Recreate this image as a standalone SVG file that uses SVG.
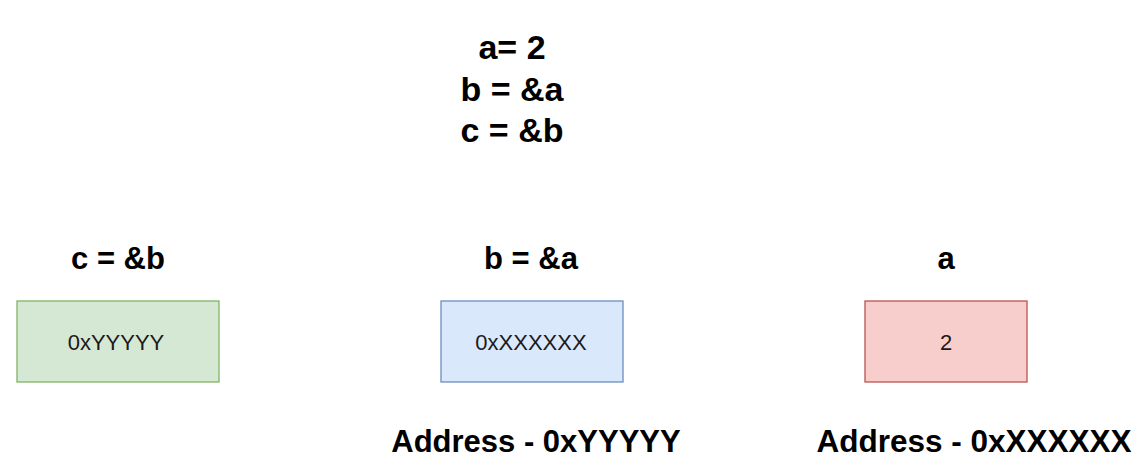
<svg xmlns="http://www.w3.org/2000/svg" width="1141" height="471" viewBox="0 0 1141 471">
<style>
.h{font-family:"Liberation Sans",Arial,sans-serif;font-weight:bold;fill:#000;text-anchor:middle}
.v{font-family:"Liberation Sans",Arial,sans-serif;font-size:22px;fill:#1a1a1a;text-anchor:middle}
.box{stroke-width:1.3}
</style>
<rect width="1141" height="471" fill="#ffffff"/>
<g id="code">
<text class="h" x="512" y="59" font-size="34">a= 2</text>
<text class="h" x="512" y="101" font-size="34">b = &amp;a</text>
<text class="h" x="512" y="142" font-size="34">c = &amp;b</text>
</g>
<g id="node-c">
<text class="h" x="118" y="269" font-size="31">c = &amp;b</text>
<rect class="box" x="17" y="301" width="202" height="81" fill="#d5e8d4" stroke="#82b366"/>
<text class="v" x="116" y="350">0xYYYYY</text>
</g>
<g id="node-b">
<text class="h" x="531" y="269" font-size="31">b = &amp;a</text>
<rect class="box" x="441" y="301" width="182" height="81" fill="#dae8fc" stroke="#6c8ebf"/>
<text class="v" x="531" y="350">0xXXXXXX</text>
<text class="h" x="536" y="452" font-size="31">Address - 0xYYYYY</text>
</g>
<g id="node-a">
<text class="h" x="946" y="269" font-size="31">a</text>
<rect class="box" x="865" y="301" width="162" height="81" fill="#f8cecc" stroke="#b85450"/>
<text class="v" x="946" y="350">2</text>
<text class="h" x="974" y="452" font-size="31.5">Address - 0xXXXXXX</text>
</g>
<g id="connectors"></g>
</svg>
